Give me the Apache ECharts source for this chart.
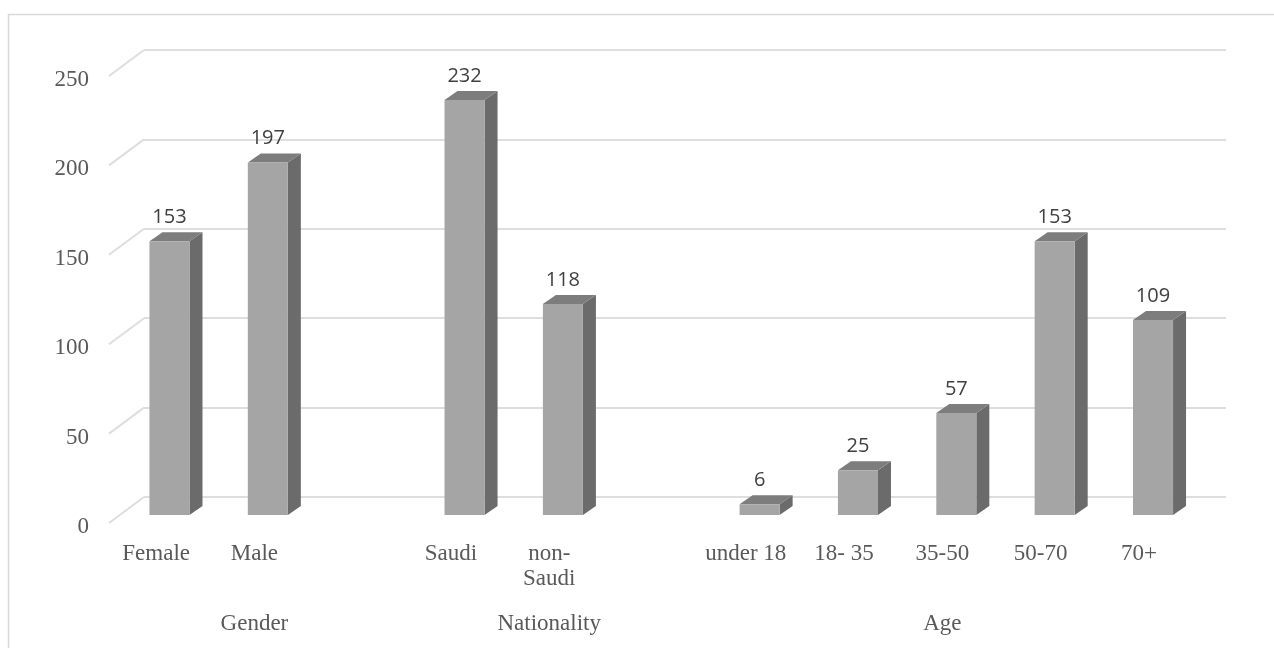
<!DOCTYPE html>
<html>
<head>
<meta charset="utf-8">
<title>Respondents by gender, nationality and age</title>
<script src="https://cdn.jsdelivr.net/npm/echarts@6/dist/echarts.min.js"></script>
<style>
  html, body { margin: 0; padding: 0; background: #ffffff; }
  #chart { width: 1274px; height: 648px; }
</style>
</head>
<body>
<div id="chart"></div>
<script>
// Category slots (blank slots separate the three groups)
const categories = ['Female', 'Male', '', 'Saudi', 'non-\nSaudi', '', 'under 18', '18- 35', '35-50', '50-70', '70+'];
// Group captions, each placed on the middle slot of its group
const groupLabels = ['', 'Gender', '', '', 'Nationality', '', '', '', 'Age', '', ''];
// Counts per category (null = empty slot)
const counts = [153, 197, null, 232, 118, null, 6, 25, 57, 153, 109];
// Value-axis ticks
const yTicks = [0, 50, 100, 150, 200, 250];

const serif = '"Liberation Serif", "Times New Roman", serif';
const sans = '"Open Sans", "Liberation Sans", Arial, sans-serif';

// 3D look: depth of each box and of the back wall
const BOX_DX = 13, BOX_DY = 9;
const WALL_DX = 35, WALL_DY = 26;

const barData = counts.map((v, i) => [i, v]).filter(d => d[1] !== null);

const chart = echarts.init(document.getElementById('chart'), null, { renderer: 'canvas' });

chart.setOption({
  backgroundColor: '#ffffff',
  animation: false,
  graphic: [{
    type: 'rect',
    shape: { x: 8.5, y: 14.5, width: 1300, height: 700 },
    style: { fill: 'none', stroke: '#d9d9d9', lineWidth: 1.5 },
    silent: true, z: -10
  }],
  grid: [
    // bars
    { left: 120.3, right: 71.8, top: 67.75, bottom: 133 },
    // back wall with gridlines
    { left: 144, right: 48, top: 50, bottom: 151 },
    // front edge carrying the axis labels
    { left: 107, right: 86, top: 80, bottom: 121 }
  ],
  xAxis: [
    { gridIndex: 0, type: 'category', data: categories, show: false },
    { gridIndex: 1, type: 'category', data: categories, show: false },
    {
      gridIndex: 2, type: 'category', data: categories,
      axisLine: { show: false }, axisTick: { show: false },
      axisLabel: { interval: 0, margin: 14, color: '#595959', fontFamily: serif, fontSize: 23, lineHeight: 25 }
    },
    {
      gridIndex: 2, type: 'category', data: groupLabels, position: 'bottom',
      axisLine: { show: false }, axisTick: { show: false },
      axisLabel: { interval: 0, margin: 85, color: '#595959', fontFamily: serif, fontSize: 23 }
    }
  ],
  yAxis: [
    { gridIndex: 0, type: 'value', min: 0, max: 250, interval: 50, show: false },
    {
      gridIndex: 1, type: 'value', min: 0, max: 250, interval: 50,
      axisLine: { show: false }, axisTick: { show: false }, axisLabel: { show: false },
      splitLine: { show: true, lineStyle: { color: '#dedede', width: 2 } }
    },
    {
      gridIndex: 2, type: 'value', min: 0, max: 250, interval: 50,
      axisLine: { show: false }, axisTick: { show: false }, splitLine: { show: false },
      axisLabel: { margin: 18, color: '#595959', fontFamily: serif, fontSize: 23 }
    }
  ],
  series: [
    // slanted floor lines joining each gridline to the front edge
    {
      type: 'custom',
      xAxisIndex: 1, yAxisIndex: 1,
      data: yTicks.map(v => [0, v]),
      silent: true, z: 1,
      renderItem: function (params, api) {
        const cs = params.coordSys;
        const p = api.coord([0, api.value(1)]);
        return {
          type: 'line',
          shape: { x1: cs.x - WALL_DX, y1: p[1] + WALL_DY, x2: cs.x, y2: p[1] },
          style: { stroke: '#dedede', lineWidth: 2 }
        };
      }
    },
    // 3D boxes
    {
      type: 'custom',
      xAxisIndex: 0, yAxisIndex: 0,
      data: barData,
      z: 5,
      renderItem: function (params, api) {
        const i = api.value(0), v = api.value(1);
        const top = api.coord([i, v]);
        const base = api.coord([i, 0]);
        const w = api.size([1, 0])[0] * 0.407;
        const x0 = top[0] - w / 2, x1 = top[0] + w / 2;
        const yt = top[1], yb = base[1];
        return {
          type: 'group',
          children: [
            {
              type: 'polygon',
              shape: { points: [[x1, yt], [x1 + BOX_DX, yt - BOX_DY], [x1 + BOX_DX, yb - BOX_DY], [x1, yb]] },
              style: { fill: '#6b6b6b' }
            },
            {
              type: 'polygon',
              shape: { points: [[x0, yt], [x0 + BOX_DX, yt - BOX_DY], [x1 + BOX_DX, yt - BOX_DY], [x1, yt]] },
              style: { fill: '#7d7d7d' }
            },
            {
              type: 'rect',
              shape: { x: x0, y: yt, width: w, height: yb - yt },
              style: { fill: '#a5a5a5' }
            },
            {
              type: 'text',
              style: {
                text: String(v), x: top[0], y: yt - 24,
                align: 'center', verticalAlign: 'middle',
                fill: '#404040', font: '20px ' + sans
              }
            }
          ]
        };
      }
    }
  ]
});
</script>
</body>
</html>
